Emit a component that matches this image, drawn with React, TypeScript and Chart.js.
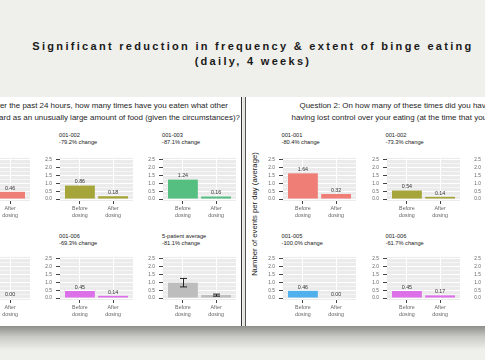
import React, { useEffect, useRef } from 'react';
import { Chart, registerables } from 'chart.js';

Chart.register(...registerables);

// ---------- data ----------
const categories = ['Before dosing', 'After dosing'];
const majorTicks = [0, 0.5, 1.0, 1.5, 2.0, 2.5];
const minorTicks = [0.25, 0.75, 1.25, 1.75, 2.25];

const patients = ['001-001', '001-002', '001-003', '001-005', '001-006', '5-patient average'];

const q1Changes = ['-69.9% change', '-79.2% change', '-87.1% change', '-100.0% change', '-69.3% change', '-81.1% change'];
const q1Before = [1.53, 0.86, 1.24, 0.8, 0.45, 0.98];
const q1After = [0.46, 0.18, 0.16, 0.0, 0.14, 0.19];
const q1AvgErrLow = [0.71, 0.12];
const q1AvgErrHigh = [1.25, 0.25];

const q2Changes = ['-80.4% change', '-73.3% change', '-85.6% change', '-100.0% change', '-61.7% change', '-80.2% change'];
const q2Before = [1.64, 0.54, 0.9, 0.46, 0.45, 0.8];
const q2After = [0.32, 0.14, 0.13, 0.0, 0.17, 0.15];
const q2AvgErrLow = [0.55, 0.09];
const q2AvgErrHigh = [1.05, 0.21];

const patientColors = ['#ef7e77', '#a5a53a', '#55bf82', '#4fb0ec', '#dc70e8', '#bdbdbd'];

const titleLines = ['Significant reduction in frequency & extent of binge eating', '(daily, 4 weeks)'];
const q1Lines = [
  'Question 1: Over the past 24 hours, how many times have you eaten what other',
  'people would regard as an unusually large amount of food (given the circumstances)?',
];
const q2Lines = [
  'Question 2: On how many of these times did you have a sense of',
  'having lost control over your eating (at the time that you were eating)?',
];
const yAxisTitle = 'Number of events per day (average)';

// ---------- layout ----------
const FONT = '"Liberation Sans", Arial, sans-serif';
const PANEL_TOP = 97;
const PANEL_H = 229;
const PLOT_W = 73;
const PLOT_H = 48;
const YAXIS_W = 24;
const XAXIS_H = 20;
const leftCols = [-43, 60, 163];
const rightCols = [283, 387, 489];
const rowTops = [153, 252];
const titleTops = [131.5, 232.5];

const isMajor = (v: number) => Math.abs(v * 2 - Math.round(v * 2)) < 1e-6;

type FacetProps = {
  px: number;
  row: number;
  offsetX: number;
  before: number;
  after: number;
  color: string;
  name: string;
  change: string;
  errLow?: number[];
  errHigh?: number[];
};

function Facet(p: FacetProps) {
  const ref = useRef<HTMLCanvasElement>(null);
  useEffect(() => {
    const values = [p.before, p.after];
    const bgPlugin = {
      id: 'panelBg',
      beforeDraw(chart: any) {
        const { ctx, chartArea: a } = chart;
        ctx.save();
        ctx.fillStyle = '#ebebeb';
        ctx.fillRect(a.left, a.top, a.right - a.left, a.bottom - a.top);
        ctx.restore();
      },
    };
    const markPlugin = {
      id: 'marks',
      afterDatasetsDraw(chart: any) {
        const { ctx } = chart;
        const meta = chart.getDatasetMeta(0);
        const ys = chart.scales.y;
        ctx.save();
        if (p.errLow && p.errHigh) {
          ctx.strokeStyle = '#222';
          ctx.lineWidth = 1;
          meta.data.forEach((bar: any, i: number) => {
            const x = Math.round(bar.x) + 0.5;
            const yh = ys.getPixelForValue(p.errHigh![i]);
            const yl = ys.getPixelForValue(p.errLow![i]);
            ctx.beginPath();
            ctx.moveTo(x, yh);
            ctx.lineTo(x, yl);
            ctx.moveTo(x - 3.5, yh);
            ctx.lineTo(x + 3.5, yh);
            ctx.moveTo(x - 3.5, yl);
            ctx.lineTo(x + 3.5, yl);
            ctx.stroke();
          });
        } else {
          ctx.fillStyle = '#333';
          ctx.font = `5.3px ${FONT}`;
          ctx.textAlign = 'center';
          ctx.textBaseline = 'bottom';
          meta.data.forEach((bar: any, i: number) => {
            ctx.fillText(values[i].toFixed(2), bar.x, bar.y - 1);
          });
        }
        ctx.restore();
      },
    };
    const chart = new Chart(ref.current!, {
      type: 'bar',
      data: {
        datasets: [
          {
            data: values.map((v, i) => ({ x: i + 1, y: v })),
            backgroundColor: p.color,
            categoryPercentage: 1,
            barPercentage: 0.9,
          } as any,
        ],
      },
      options: {
        animation: false,
        responsive: false,
        maintainAspectRatio: false,
        devicePixelRatio: 1,
        layout: { padding: { top: 2, right: 1, left: 0, bottom: 0 } },
        plugins: { legend: { display: false }, tooltip: { enabled: false }, title: { display: false } },
        scales: {
          x: {
            type: 'linear',
            offset: false,
            bounds: 'data',
            min: 0.4,
            max: 2.6,
            afterFit: (s: any) => {
              s.height = XAXIS_H;
            },
            afterBuildTicks: (s: any) => {
              s.ticks = [{ value: 1 }, { value: 2 }];
            },
            ticks: {
              callback: (v: any) => categories[Math.round(v) - 1].split(' '),
              font: { size: 5.3, family: FONT, lineHeight: 1.3 },
              color: '#666',
              padding: 1.5,
              maxRotation: 0,
              autoSkip: false,
            },
            grid: { offset: false, color: '#ffffff', lineWidth: 1, tickColor: '#444', tickLength: 3 },
            border: { display: false },
          },
          y: {
            type: 'linear',
            min: -0.125,
            max: 2.625,
            afterFit: (s: any) => {
              s.width = YAXIS_W;
            },
            afterBuildTicks: (s: any) => {
              s.ticks = [...majorTicks, ...minorTicks].sort((a, b) => a - b).map((v) => ({ value: v }));
            },
            ticks: {
              callback: (v: any) => (isMajor(v) ? Number(v).toFixed(1) : ''),
              font: { size: 4.8, family: FONT },
              color: '#666',
              padding: 4,
              autoSkip: false,
            },
            grid: {
              color: '#ffffff',
              lineWidth: (c: any) => (c.tick && isMajor(c.tick.value) ? 1 : 0.5),
              tickColor: (c: any) => (c.tick && isMajor(c.tick.value) ? '#444' : 'rgba(0,0,0,0)'),
              tickLength: 4,
            },
            border: { display: false },
          },
        },
      } as any,
      plugins: [bgPlugin, markPlugin],
    });
    return () => chart.destroy();
  }, []);

  const cw = YAXIS_W + PLOT_W + 1;
  const ch = 2 + PLOT_H + XAXIS_H;
  const left = p.px - p.offsetX;
  const top = rowTops[p.row] - PANEL_TOP;
  return (
    <>
      <div
        style={{
          position: 'absolute',
          left: left - 1,
          top: titleTops[p.row] - PANEL_TOP,
          font: `5.7px ${FONT}`,
          lineHeight: '7px',
          color: '#222',
          whiteSpace: 'nowrap',
        }}
      >
        <div>{p.name}</div>
        <div>{p.change}</div>
      </div>
      <canvas
        ref={ref}
        width={cw}
        height={ch}
        style={{ position: 'absolute', left: left - YAXIS_W, top: top - 2, width: cw, height: ch }}
      />
    </>
  );
}

function facetsFor(
  cols: number[],
  offsetX: number,
  changes: string[],
  before: number[],
  after: number[],
  errLow: number[],
  errHigh: number[],
) {
  return patients.map((name, i) => {
    const row = i < 3 ? 0 : 1;
    const col = i % 3;
    const avg = i === patients.length - 1;
    return (
      <Facet
        key={name}
        px={cols[col]}
        row={row}
        offsetX={offsetX}
        before={before[i]}
        after={after[i]}
        color={patientColors[i]}
        name={name}
        change={changes[i]}
        errLow={avg ? errLow : undefined}
        errHigh={avg ? errHigh : undefined}
      />
    );
  });
}

export default function App() {
  const qText: React.CSSProperties = {
    position: 'absolute',
    font: `7.95px ${FONT}`,
    color: '#1e1e1e',
    whiteSpace: 'nowrap',
    lineHeight: '12px',
  };
  return (
    <div
      style={{
        position: 'absolute',
        left: 0,
        top: 0,
        width: 485,
        height: 360,
        overflow: 'hidden',
        background: '#efefeb',
        fontFamily: FONT,
      }}
    >
      <div
        style={{
          position: 'absolute',
          left: 20,
          top: 38.5,
          width: 466,
          textAlign: 'center',
          font: `bold 11px ${FONT}`,
          letterSpacing: '2.3px',
          lineHeight: '15px',
          color: '#1a1a1a',
          whiteSpace: 'nowrap',
        }}
      >
        <div>{titleLines[0]}</div>
        <div>{titleLines[1]}</div>
      </div>

      <div
        style={{
          position: 'absolute',
          left: 0,
          top: PANEL_TOP + PANEL_H,
          width: 485,
          height: 24,
          background: 'linear-gradient(#8e8e8b, #c9c9c6 45%, #efefeb)',
        }}
      />

      <div
        style={{
          position: 'absolute',
          left: 0,
          top: PANEL_TOP,
          width: 241,
          height: PANEL_H,
          background: '#ffffff',
          overflow: 'hidden',
          borderRight: '1.5px solid #333',
        }}
      >
        <div style={{ ...qText, right: 241 - 228, top: 106 - 6 - PANEL_TOP }}>{q1Lines[0]}</div>
        <div style={{ ...qText, right: 241 - 240, top: 118 - 6 - PANEL_TOP }}>{q1Lines[1]}</div>
        {facetsFor(leftCols, 0, q1Changes, q1Before, q1After, q1AvgErrLow, q1AvgErrHigh)}
      </div>

      <div style={{ position: 'absolute', left: 242.5, top: PANEL_TOP, width: 2, height: PANEL_H, background: '#e2e2df' }} />

      <div
        style={{
          position: 'absolute',
          left: 244.5,
          top: PANEL_TOP,
          width: 241,
          height: PANEL_H,
          background: '#ffffff',
          overflow: 'hidden',
          borderLeft: '1.5px solid #555',
        }}
      >
        <div style={{ ...qText, left: 300 - 246, top: 106 - 6 - PANEL_TOP }}>{q2Lines[0]}</div>
        <div style={{ ...qText, left: 292 - 246, top: 118 - 6 - PANEL_TOP }}>{q2Lines[1]}</div>
        <div
          style={{
            position: 'absolute',
            left: 256 - 246 - 100,
            top: 214 - PANEL_TOP - 6,
            width: 200,
            height: 12,
            lineHeight: '12px',
            textAlign: 'center',
            font: `7.7px ${FONT}`,
            color: '#222',
            transform: 'rotate(-90deg)',
            whiteSpace: 'nowrap',
          }}
        >
          {yAxisTitle}
        </div>
        {facetsFor(rightCols, 246, q2Changes, q2Before, q2After, q2AvgErrLow, q2AvgErrHigh)}
      </div>
    </div>
  );
}
